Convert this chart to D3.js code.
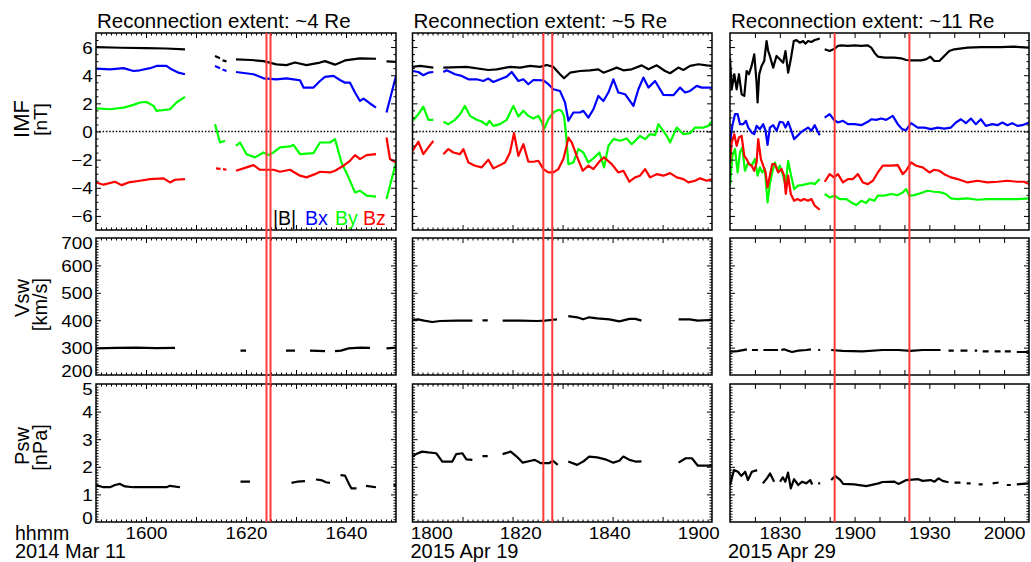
<!DOCTYPE html>
<html><head><meta charset="utf-8">
<script src="https://cdn.jsdelivr.net/npm/d3@7"></script>
<style>
body{margin:0;background:#fff}
svg{display:block}
text{font-family:"Liberation Sans",Arial,Helvetica,sans-serif;fill:#000}
</style></head>
<body><svg id="chart" width="1031" height="562"></svg>
<script>
// ---------- text ----------
const panelTitles = ["Reconnection extent: ~4 Re","Reconnection extent: ~5 Re","Reconnection extent: ~11 Re"];
const dateLabels = ["2014 Mar 11","2015 Apr 19","2015 Apr 29"];
const rowNames = ["IMF","Vsw","Psw"];
const rowUnits = ["[nT]","[km/s]","[nPa]"];
const legendNames = ["|B|","Bx","By","Bz"];

// ---------- time axes (minutes from a reference time per event) ----------
// event 1: ref 15:50, event 2: ref 18:00, event 3: ref 18:10
const timeDomains = [[0,60],[-4.2,63.1],[0,120]];
const xLabelTicks = [[10,30,50],[0,20,40,60],[20,50,80,110]];
const xLabelText = [["1600","1620","1640"],["1800","1820","1840","1900"],["1830","1900","1930","2000"]];
const xMajorTicks = [[10,20,30,40,50],[7.04,18.28,29.52,40.76,52.0],[10,20,30,40,50,60,70,80,90,100,110]];
const xMinorStep = [1,1.124,null];
const eventLines = [[34.1,34.9],[25.2,27.2],[42,72]];

// ---------- y axes ----------
const yDomains = [[-7,7],[200,700],[0,5]];
const yLabelTicks = [[-6,-4,-2,0,2,4,6],[200,300,400,500,600,700],[0,1,2,3,4,5]];
const yMinorStep = [0.5,10,0.1];

// ---------- event 1 (2014 Mar 11, minutes after 15:50) ----------
const bt1 = [[0,6.0],[5,5.95],[10,5.93],[14,5.9],[17.8,5.84],null,[23.8,5.36],[24.8,5.2],null,[25.3,5.05],[26.1,4.98],null,[28,5.13],[31,5.08],[33.5,5.0],[36.1,4.77],[38.1,4.72],[39.8,4.9],[42.1,4.72],[44.8,4.9],[45.8,5.0],[47.8,4.75],[49.8,5.05],[52.8,5.2],[56,5.17],null,[58.1,4.98],[60,4.95]];
const bx1 = [[0,4.47],[2.8,4.42],[5.5,4.5],[7.5,4.3],[8.8,4.35],[10.8,4.5],[12.1,4.66],[14.1,4.66],[15.1,4.42],[16.5,4.18],[17.8,4.07],null,[23.8,4.66],[24.8,4.5],null,[25.3,4.4],[26.1,4.3],null,[28,4.23],[31.5,4.07],[33.5,3.78],[36.1,3.71],[38.1,3.78],[39.5,3.71],[40.8,3.64],[41.5,3.12],[43.5,3.12],[44.8,3.59],[45.8,3.88],[47.5,3.95],[48.8,3.66],[49.8,3.47],[50.8,3.47],[51.8,2.77],[52.8,2.17],[53.5,2.34],[54.8,1.99],[56,1.70],null,[58.1,1.35],[60,3.95]];
const by1 = [[0,1.65],[2.8,1.58],[5.5,1.70],[7.5,1.89],[8.8,2.06],[10.1,2.10],[11.5,1.82],[12.1,1.47],[14.8,1.58],[16.1,2.06],[17.8,2.46],null,[23.8,0.52],[24.8,-0.78],[25.8,-0.66],null,[28,-1.02],[28.8,-0.78],[30.1,-1.61],[31.8,-1.84],[33.5,-1.49],[34.5,-1.68],[35.5,-1.49],[36.8,-1.13],[38.8,-1.06],[39.5,-0.95],[40.8,-1.61],[43.5,-1.54],[44.8,-0.78],[46.8,-0.78],[47.8,-0.54],[49.1,-2.20],[50.5,-3.26],[51.8,-4.33],[52.8,-4.21],[54.1,-4.56],[56,-4.63],null,[58.1,-4.80],[60,-2.2]];
const bz1 = [[0,-3.62],[1.5,-3.78],[3.8,-3.57],[5.1,-3.81],[6.5,-3.62],[8.8,-3.50],[10.8,-3.38],[13.5,-3.33],[14.8,-3.62],[15.8,-3.43],[17.8,-3.38],null,[24,-2.62],[24.9,-2.65],null,[25.4,-2.68],[26.1,-2.72],null,[28,-2.79],[30.1,-2.55],[31.5,-2.39],[32.8,-2.72],[35.5,-2.72],[36.8,-2.86],[38.8,-2.72],[40.8,-3.14],[42.1,-3.26],[43.8,-3.03],[44.8,-2.86],[46.8,-2.91],[47.8,-2.79],[49.5,-2.43],[50.8,-2.08],[51.8,-1.68],[52.8,-1.96],[54.1,-1.68],[56,-1.61],null,[58.1,-0.43],[58.8,-1.96],[60,-2.2]];
const vsw1 = [[0,297],[4,299],[8,300],[12,298],[15.8,299],null,[28.9,289],[30,289],null,[38,289],[39.8,289],null,[42.8,289],[45.8,287],null,[47.8,287],[49,289],[50.5,297],[53,300],[54.8,299],null,[58.1,297],[60,300]];
const psw1 = [[0,1.34],[1.5,1.26],[2.8,1.26],[3.8,1.34],[4.8,1.38],[5.8,1.29],[7.5,1.26],[14.1,1.26],[14.8,1.31],[16.8,1.26],null,[28.9,1.46],[30.8,1.46],null,[39.1,1.42],[40.2,1.46],[41.8,1.48],null,[44,1.54],[45,1.52],[46,1.44],[46.8,1.42],null,[48.9,1.70],[49.8,1.68],[50.7,1.34],[51.1,1.22],[52.1,1.22],null,[54,1.31],[56,1.26],null,[59.5,1.34],[60,1.34]];

// ---------- event 2 (2015 Apr 19, minutes after 18:00) ----------
const bt2 = [[-4.2,4.59],[-2.5,4.66],[0.48,4.54],null,[2.73,4.54],[7.97,4.59],[12.84,4.37],[14.72,4.42],[17.71,4.59],[19.96,4.54],[22.21,4.66],[24.46,4.59],[25.96,4.73],[27.46,4.59],[28.95,4.07],[29.85,3.78],[31.2,4.18],[33.45,4.30],[35.7,4.35],[37.57,4.42],[38.69,4.18],[40.19,4.35],[41.69,4.54],[43.19,4.35],[45.06,4.42],[47.31,4.70],[48.81,4.42],[50.68,4.70],[52.55,4.30],[53.68,4.14],[55.55,4.54],[56.67,4.37],[58.17,4.66],[60.05,4.78],[61.92,4.70],[63.1,4.66]];
const bx2 = [[-4.2,4.30],[-2.89,4.23],[-1.77,4.0],[-0.64,4.18],[0.48,4.23],null,[2.73,4.23],[3.48,4.35],[5.35,4.07],[6.85,3.95],[8.35,3.71],[10.22,3.71],[11.72,3.59],[12.84,3.76],[13.97,3.52],[15.47,3.71],[16.97,3.90],[18.09,4.23],[19.59,3.59],[20.71,3.71],[21.83,3.36],[22.96,3.66],[25.21,3.64],[26.33,3.36],[27.46,3.0],[28.95,2.88],[30.08,2.06],[30.83,0.76],[31.95,1.35],[33.45,1.35],[34.2,1.47],[35.32,0.99],[36.45,1.58],[37.57,2.53],[38.69,2.17],[39.82,2.77],[40.94,3.71],[42.06,2.77],[43.56,2.65],[45.44,1.82],[46.56,3.0],[47.68,3.83],[48.81,3.12],[50.31,3.59],[52.18,2.60],[54.43,2.58],[55.93,3.12],[57.05,2.77],[58.17,2.88],[59.67,3.24],[60.8,3.12],[63.1,3.12]];
const by2 = [[-4.2,0.76],[-2.89,1.23],[-1.77,1.77],[-0.64,0.83],[0.48,0.83],null,[2.73,0.69],[3.85,0.52],[5.35,0.83],[6.48,1.23],[7.6,1.82],[8.72,1.11],[10.22,0.83],[11.35,0.71],[12.47,0.45],[13.07,0.76],[13.97,0.40],[15.47,0.52],[16.97,0.83],[18.46,1.82],[19.59,1.06],[20.71,1.47],[21.83,1.11],[22.96,0.92],[24.08,1.11],[24.83,0.69],[25.36,0.17],[26.33,0.87],[27.46,1.35],[28.58,1.54],[29.33,1.45],[29.85,1.1],[30.3,-0.2],[30.83,-2.32],[31.95,-2.2],[33.07,-1.25],[34.2,-1.49],[35.32,-2.2],[36.45,-1.91],[37.8,-1.49],[38.84,-2.55],[39.82,-1.02],[40.94,-0.54],[42.44,-0.66],[43.94,-0.50],[45.06,-0.90],[46.93,-0.31],[48.06,-0.54],[49.18,-0.19],[50.31,-0.26],[51.06,0.52],[52.93,-0.31],[53.68,-0.78],[55.18,0.28],[56.67,-0.19],[58.17,-0.12],[59.3,0.28],[61.17,0.28],[62.29,0.40],[63.1,0.76]];
const bz2 = [[-4.2,-1.37],[-2.89,-0.73],[-1.77,-1.61],[-0.64,-1.13],[0.48,-0.66],null,[2.73,-1.61],[3.85,-1.25],[4.98,-1.49],[6.48,-1.61],[7.23,-1.25],[8.35,-2.20],[9.85,-2.43],[11.35,-2.55],[12.84,-2.01],[13.97,-2.62],[15.47,-2.39],[16.59,-2.20],[17.71,-1.49],[18.61,-0.12],[19.59,-1.73],[20.71,-0.90],[21.83,-2.15],[22.96,-2.15],[24.08,-2.08],[25.21,-2.67],[26.33,-2.91],[27.46,-2.91],[28.58,-2.67],[29.7,-1.96],[30.3,-1.2],[30.83,-0.43],[31.58,-0.78],[32.7,-1.73],[34.05,-2.79],[35.32,-2.43],[36.45,-2.67],[37.94,-2.08],[38.84,-1.84],[40.57,-2.32],[42.06,-2.91],[43.19,-2.79],[44.54,-3.57],[45.81,-3.26],[46.93,-3.14],[48.06,-2.67],[49.18,-3.26],[50.68,-3.03],[52.18,-3.14],[53.68,-2.96],[55.18,-3.26],[56.67,-3.38],[57.8,-3.62],[59.3,-3.50],[60.42,-3.33],[61.92,-3.50],[63.1,-3.38]];
const vsw2 = [[-4.2,400.7],[-2.94,403.2],[-1.6,398.3],[0.23,393.4],[2.03,397.1],[5.64,398.3],[9.26,398.3],null,[11.53,399],[12.7,399],null,[16.05,398.3],[20.12,398.3],[23.74,397.1],[25.56,398.3],[26.9,400.7],[28.26,403.2],null,[30.8,415],[32.8,410.5],[34.15,403.2],[35.5,410.5],[37.31,406.8],[40.03,403.2],[42.28,395.9],[44.55,405],[45.9,405],[47.25,398.3],null,[55.59,403.2],[58.1,403.2],[59.93,398.3],[62.65,400.7],[63.1,400.7]];
const psw2 = [[-4.2,2.37],[-3.39,2.46],[-2.04,2.55],[-0.67,2.52],[1.13,2.49],[2.5,2.19],[4.75,2.19],[5.64,2.46],[7.02,2.49],[7.92,2.27],[9.26,2.25],null,[11.53,2.39],[12.7,2.39],null,[16.05,2.46],[17.87,2.55],[19.22,2.37],[20.57,2.15],[22.39,2.22],[23.29,2.25],[24.64,2.13],[26.46,2.13],[27.36,2.22],[28.44,2.07],null,[30.8,2.19],[32.8,2.07],[34.15,2.19],[35.5,2.37],[37.31,2.34],[39.11,2.27],[40.93,2.15],[42.28,2.22],[43.18,2.37],[44.55,2.25],[45.9,2.19],[47.25,2.20],null,[55.59,2.15],[57.2,2.31],[58.58,2.31],[59.93,2.04],[62.65,2.04],[63.1,2.04]];

// ---------- event 3 (2015 Apr 29, minutes after 18:10) ----------
const bt3 = [[0,5.25],[0.67,3.0],[1.73,4.07],[2.67,3.0],[3.6,4.07],[4.67,2.65],[5.73,2.53],[6.67,4.30],[7.6,4.07],[8.67,4.66],[9.73,5.48],[10.67,3.48],[11.07,2.06],[11.73,4.07],[12.67,4.66],[13.73,5.01],[14.67,6.43],[15.33,5.72],[16,5.37],[17.33,4.54],[18.67,5.37],[20,5.13],[21.33,4.89],[22.27,5.72],[23.33,4.18],[24.4,5.13],[25.6,6.43],[26.67,6.50],[28,6.31],[29.33,6.43],[30.27,6.24],[31.33,6.43],[32.67,6.36],[34,6.50],[36,6.60],null,[38,5.84],[40,5.72],[42,5.89],[43.33,6.08],[44.67,6.12],[47.33,6.08],[50,6.12],[52.67,6.08],[55.33,6.12],[56.67,5.96],[58,5.60],[59.33,5.32],[62,5.25],[66,5.25],[68.67,5.20],[70.67,5.08],[72.67,5.06],[76.67,5.06],[78.67,5.13],[80.4,5.32],[82,5.01],[84,5.01],[86,5.37],[88,5.72],[90,5.84],[95.33,5.96],[100.67,6.00],[108.67,6.00],[114,6.03],[120,5.96]];
const bx3 = [[0,-0.73],[0.93,0.40],[2,1.23],[3.07,1.23],[4,0.52],[5.33,0.52],[6.4,0.76],[7.33,0.28],[8.67,-0.07],[9.73,-0.19],[10.67,0.40],[12,0.17],[13.33,0.52],[14.27,0.05],[15.07,-0.95],[16,0.28],[17.33,0.45],[18.67,0.05],[20,0.69],[21.33,0.64],[22.27,0.28],[23.33,0.69],[24.4,0.17],[25.73,-0.54],[27.07,-0.31],[28.4,-0.07],[29.33,0.05],[31.33,0.28],[32.67,0.05],[34,0.45],[35.07,0.05],[36,-0.26],null,[38,0.99],[40,1.23],[41.73,0.83],[43.33,0.64],[45.33,0.76],[47.33,0.52],[50,0.52],[52.67,0.45],[55.33,0.69],[56.67,0.87],[58.67,0.83],[60.67,0.92],[62.67,0.83],[65.33,1.11],[67.33,0.52],[69.07,0.17],[70.67,0.09],[72.67,0.59],[75.33,0.28],[78,0.28],[80.67,0.17],[83.33,0.28],[86,0.21],[88.67,0.28],[90.67,0.64],[92.67,0.87],[94.67,0.59],[96.67,0.92],[98.67,0.52],[100.67,0.87],[102.67,0.40],[105.33,0.52],[107.33,0.45],[109.33,0.64],[111.33,0.45],[113.33,0.59],[115.33,0.40],[117.33,0.45],[120,0.64]];
const by3 = [[0,-3.85],[0.93,-1.73],[2,-1.25],[3.07,-2.91],[4,-1.49],[4.93,-1.13],[6,-2.79],[7.33,-2.20],[8.67,-2.43],[10,-1.96],[11.07,-3.14],[12,-2.55],[12.93,-2.91],[14,-2.67],[15.07,-5.04],[16,-3.74],[16.93,-2.91],[18,-2.20],[19.07,-2.79],[20,-2.43],[21.33,-3.14],[22.27,-3.85],[23.33,-2.08],[24.4,-3.03],[25.73,-4.09],[27.33,-3.85],[28.67,-3.81],[30.67,-3.74],[32.67,-3.66],[34,-3.74],[36,-3.38],null,[38,-4.44],[40,-4.68],[42,-4.56],[44,-4.80],[46.67,-4.80],[48.67,-5.04],[50.67,-5.23],[52.67,-4.92],[54.67,-5.08],[56,-4.80],[58,-4.92],[59.33,-4.56],[62,-4.56],[64.67,-4.44],[67.33,-4.52],[69.33,-4.33],[70.67,-4.09],[72,-4.56],[74,-4.52],[76.67,-4.37],[79.33,-4.21],[82,-4.28],[84.67,-4.33],[86.67,-4.44],[88.67,-4.75],[91.33,-4.80],[95.33,-4.75],[99.33,-4.85],[103.33,-4.80],[107.33,-4.80],[111.33,-4.80],[115.33,-4.80],[120,-4.75]];
const bz3 = [[0,-2.32],[0.67,-0.78],[1.73,-0.19],[2.67,-1.02],[3.6,-0.43],[4.67,-0.31],[5.73,-1.73],[6.67,-1.96],[7.6,-2.32],[8.67,-2.43],[9.73,-2.79],[10.67,-2.20],[11.33,-0.54],[12.4,-1.96],[13.33,-2.43],[14.27,-2.91],[15.07,-3.97],[16,-3.14],[16.93,-2.32],[18,-2.32],[19.33,-2.91],[20.67,-2.67],[21.73,-3.14],[22.4,-4.44],[23.33,-3.14],[24.4,-4.44],[25.73,-4.92],[27.07,-4.80],[28.4,-4.92],[29.73,-4.80],[31.33,-4.92],[32.67,-4.80],[34,-5.27],[36,-5.56],null,[38,-3.57],[40,-3.03],[41.73,-3.26],[43.33,-3.03],[45.33,-3.62],[47.33,-3.38],[49.33,-3.38],[51.33,-3.03],[53.33,-3.62],[55.33,-3.74],[57.33,-3.50],[59.33,-2.91],[61.33,-2.43],[64.67,-2.43],[67.33,-2.39],[69.33,-3.03],[70.67,-2.79],[72.67,-2.20],[74.67,-2.43],[77.33,-2.55],[80,-2.91],[82,-2.72],[84,-2.79],[86,-3.03],[88.67,-3.26],[91.33,-3.38],[95.33,-3.62],[99.33,-3.50],[103.33,-3.62],[107.33,-3.57],[111.33,-3.50],[115.33,-3.57],[118,-3.57],[120,-3.74]];
const vsw3 = [[0.3,285.2],[3,287],[6.8,293.7],null,[8.8,291.2],[11.2,291.2],null,[13.4,291.2],[19.3,291.2],null,[20.6,291.2],[21.7,293.7],[23.3,288.8],[24.9,283.9],[27.4,288.8],[30.6,291.2],[32.5,293.7],null,[35.4,291.2],[36.2,291.2],null,[40.6,291.2],[45.1,288],[53.1,286.4],[61.2,291.2],[67.6,291.2],[72.4,288],[77.3,291.2],[84.5,291.2],null,[87.7,288.8],[89.8,288.8],null,[92.5,288.8],[95.3,288.8],null,[98.2,288.8],[99.2,288.8],null,[101.4,286.4],[103.8,286.4],null,[106.2,286.4],[108.6,286.4],null,[110.3,286.4],[112.7,286.4],null,[115.1,283.9],[120,283.9]];
const psw3 = [[0,1.34],[1.6,1.88],[3.2,1.82],[4.5,1.67],[6.1,1.82],[7.2,1.52],[8.8,1.82],[10.9,1.88],null,[13.2,1.40],[14.8,1.58],[16.1,1.76],[17.7,1.46],null,[20.1,1.46],[21.2,1.62],[22.2,1.46],[23.3,1.79],[24.4,1.22],[25.7,1.55],[27.4,1.34],[29,1.46],[30.6,1.40],[32.2,1.52],[33,1.36],null,[35.4,1.40],[36.2,1.40],null,[40.6,1.52],[42.2,1.67],[44.3,1.52],[45.4,1.38],[49.9,1.36],[54.7,1.30],[59.6,1.40],[61.2,1.45],[66,1.46],[67.6,1.38],[70.8,1.52],[75.6,1.55],[77.3,1.49],[80.5,1.52],[82.1,1.46],[83.7,1.58],[85.3,1.49],[87.7,1.44],null,[90.1,1.43],[92.5,1.43],null,[95,1.40],[96.6,1.40],null,[99.8,1.36],[101.4,1.36],null,[105.4,1.40],[107.8,1.43],null,[111.1,1.34],[112.7,1.34],null,[115.1,1.36],[119.9,1.40]];

// ---------- layout ----------
const imfColors = ["#000000","#0000ff","#00ff00","#ff0000"];
const cols = [{x0:96,x1:396},{x0:412.5,x1:712},{x0:730,x1:1029}];
const rows = [{y0:33,y1:230},{y0:238,y1:375},{y0:384,y1:522}];
const panelSeries = [
  [[bt1,bx1,by1,bz1],[vsw1],[psw1]],
  [[bt2,bx2,by2,bz2],[vsw2],[psw2]],
  [[bt3,bx3,by3,bz3],[vsw3],[psw3]]
];

const svg = d3.select("#chart");
svg.append("rect").attr("width",1031).attr("height",562).attr("fill","#fff");
const defs = svg.append("defs");

const xScales = cols.map((c,i)=>d3.scaleLinear().domain(timeDomains[i]).range([c.x0,c.x1]));
const yScales = rows.map((r,j)=>d3.scaleLinear().domain(yDomains[j]).range([r.y1,r.y0]));

function stepRange(dom, step){
  const out=[]; if(!step) return out;
  const n = Math.round((dom[1]-dom[0])/step);
  for(let k=1;k<n+1;k++){ const v = dom[0]+k*step; if(v<dom[1]-1e-6) out.push(+v.toFixed(4)); }
  return out;
}
function cleanAxis(g){
  g.select(".domain").remove();
  g.selectAll(".tick line").attr("stroke","#000").attr("stroke-width",1);
}

cols.forEach((c,i)=>{
  const x = xScales[i];
  rows.forEach((r,j)=>{
    const y = yScales[j];
    const id = `clip${i}${j}`;
    defs.append("clipPath").attr("id",id).append("rect")
      .attr("x",c.x0).attr("y",r.y0).attr("width",c.x1-c.x0).attr("height",r.y1-r.y0);
    const g = svg.append("g");

    if(j===0){
      g.append("line").attr("x1",c.x0).attr("x2",c.x1).attr("y1",y(0)).attr("y2",y(0))
        .attr("stroke","#000").attr("stroke-width",1.5).attr("stroke-dasharray","1.5,1.8");
    }
    const line = d3.line().defined(d=>d!==null).x(d=>x(d[0])).y(d=>y(d[1]));
    const dg = g.append("g").attr("clip-path",`url(#${id})`);
    panelSeries[i][j].forEach((s,k)=>{
      dg.append("path").attr("d",line(s)).attr("fill","none")
        .attr("stroke", j===0 ? imfColors[k] : "#000")
        .attr("stroke-width",2.2).attr("stroke-linejoin","round").attr("stroke-linecap","butt");
    });

    const xMin = stepRange(timeDomains[i], xMinorStep[i]).filter(v=>!xMajorTicks[i].some(m=>Math.abs(m-v)<0.05));
    const yMaj = yLabelTicks[j].filter(v=>v>yDomains[j][0] && v<yDomains[j][1]);
    const yMin = stepRange(yDomains[j], yMinorStep[j]).filter(v=>!yLabelTicks[j].some(m=>Math.abs(m-v)<1e-6));
    const specs = [
      [d3.axisBottom, `translate(0,${r.y1})`, x, xMajorTicks[i], -5],
      [d3.axisBottom, `translate(0,${r.y1})`, x, xMin, -2.5],
      [d3.axisTop, `translate(0,${r.y0})`, x, xMajorTicks[i], -5],
      [d3.axisTop, `translate(0,${r.y0})`, x, xMin, -2.5],
      [d3.axisLeft, `translate(${c.x0},0)`, y, yMaj, -5],
      [d3.axisLeft, `translate(${c.x0},0)`, y, yMin, -2.5],
      [d3.axisRight, `translate(${c.x1},0)`, y, yMaj, -5],
      [d3.axisRight, `translate(${c.x1},0)`, y, yMin, -2.5]
    ];
    specs.forEach(([ax,tr,sc,vals,len])=>{
      if(!vals.length) return;
      g.append("g").attr("transform",tr)
        .call(ax(sc).tickValues(vals).tickSize(len).tickFormat(""))
        .call(cleanAxis);
    });

    g.append("rect").attr("x",c.x0).attr("y",r.y0).attr("width",c.x1-c.x0).attr("height",r.y1-r.y0)
      .attr("fill","none").attr("stroke","#000").attr("stroke-width",1.5);

    if(i===0){
      const ya = g.append("g").attr("transform",`translate(${c.x0},0)`)
        .call(d3.axisLeft(y).tickValues(yLabelTicks[j]).tickSize(0).tickPadding(3).tickFormat(d3.format("d")));
      ya.select(".domain").remove();
      ya.selectAll("text")
        .style("font-family",'"Liberation Sans",Arial,sans-serif').style("font-size","16.5px").attr("fill","#000")
        .attr("transform","scale(1.14,1)")
        .attr("dy","0.36em")
        .attr("y",d=> d===yDomains[j][1] ? 5 : (d===yDomains[j][0] && j>0 ? -4 : 0));
    }
    if(j===2){
      const xa = g.append("g").attr("transform",`translate(0,${r.y1})`)
        .call(d3.axisBottom(x).tickValues(xLabelTicks[i]).tickSize(0).tickFormat((d,k)=>xLabelText[i][k]));
      xa.select(".domain").remove();
      xa.selectAll("text")
        .style("font-family",'"Liberation Sans",Arial,sans-serif').style("font-size","16.5px").attr("fill","#000")
        .attr("transform","scale(1.14,1)").attr("y",17.5).attr("dy",0);
    }
  });

  eventLines[i].forEach(t=>{
    svg.append("line").attr("x1",x(t)).attr("x2",x(t)).attr("y1",rows[0].y0).attr("y2",rows[2].y1)
      .attr("stroke","#ff3838").attr("stroke-width",2);
  });

  svg.append("text").attr("x",c.x0+1).attr("y",28).style("font-size","20.5px").text(panelTitles[i]);
  svg.append("text").attr("x", i===0 ? 15 : c.x0-2).attr("y",557.5).style("font-size","20px").text(dateLabels[i]);
});

svg.append("text").attr("x",15).attr("y",539.5).style("font-size","19.5px").text("hhmm");

// y axis titles (two lines, rotated)
const titleCenters = [[119,119.5],[298,304.5],[446,447.5]];
const titleSizes = [[22,19],[20,20],[20,20]];
rows.forEach((r,j)=>{
  svg.append("text").attr("transform",`translate(29,${titleCenters[j][0]}) rotate(-90)`)
    .attr("text-anchor","middle").style("font-size",titleSizes[j][0]+"px").text(rowNames[j]);
  svg.append("text").attr("transform",`translate(47,${titleCenters[j][1]}) rotate(-90)`)
    .attr("text-anchor","middle").style("font-size",titleSizes[j][1]+"px").text(rowUnits[j]);
});

// legend
const legendX = [273,305,335,363];
legendNames.forEach((n,k)=>{
  svg.append("text").attr("x",legendX[k]).attr("y",225).style("font-size","19.5px")
    .style("fill",imfColors[k]).text(n);
});
</script>
</body></html>
